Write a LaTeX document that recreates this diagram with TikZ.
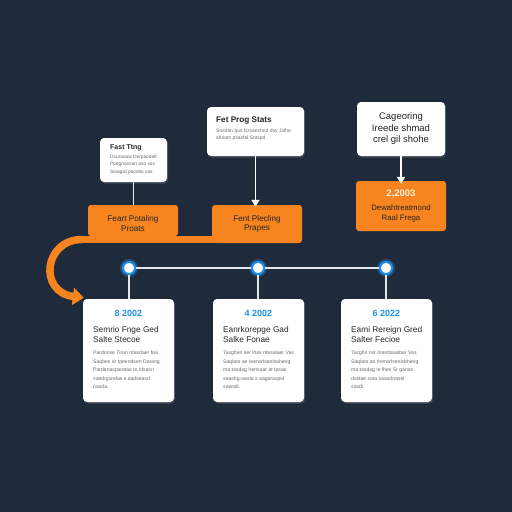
\documentclass[tikz,border=0pt]{standalone}
\usepackage{fontspec}
\setmainfont{Liberation Sans}
\usetikzlibrary{arrows.meta,shadows}
\definecolor{bg}{HTML}{1F2B3B}
\definecolor{org}{HTML}{F7841F}
\definecolor{blu}{HTML}{1E90F0}
\definecolor{ink}{HTML}{262626}
\definecolor{gry}{HTML}{6A6A6A}
\definecolor{lin}{HTML}{E3E7EC}
\definecolor{cream}{HTML}{FFF1DC}
\begin{document}
\begin{tikzpicture}[x=1pt,y=-1pt,
  card/.style={fill=white,rounded corners=4pt,inner sep=0pt,
    drop shadow={opacity=0.35,shadow xshift=1pt,shadow yshift=-1.5pt}},
  obox/.style={fill=org,rounded corners=3pt,inner sep=0pt},
  ttl/.style={font=\fontsize{7}{8}\selectfont\bfseries,text=ink,inner sep=0pt,anchor=west},
  sml/.style={font=\fontsize{4.8}{5}\selectfont,text=gry,inner sep=0pt,anchor=west},
  mid/.style={font=\fontsize{9.5}{10}\selectfont,text=ink,inner sep=0pt},
  otx/.style={font=\fontsize{8.2}{9}\selectfont,text=ink,inner sep=0pt},
  yr/.style={font=\fontsize{9}{10}\selectfont\bfseries,text=blu,inner sep=0pt},
  btl/.style={font=\fontsize{8.3}{9}\selectfont,text=ink,inner sep=0pt,anchor=west},
  bsm/.style={font=\fontsize{5.1}{6}\selectfont,text=gry,inner sep=0pt,anchor=west},
  wline/.style={draw=lin,line width=2.2pt},
  warrow/.style={draw=white,line width=1.6pt,-{Triangle[length=7pt,width=8pt]}},
  dot/.style={circle,fill=white,draw=blu,line width=2pt,minimum size=12pt,inner sep=0pt},
  glow/.style={circle,fill=blu,opacity=0.35,minimum size=18pt,inner sep=0pt}
]
\fill[bg] (0,0) rectangle (512,512);
\useasboundingbox (0,0) rectangle (512,512);

% top cards
\node[card,minimum width=67pt,minimum height=44pt] (t1) at (133.5,160) {};
\node[card,minimum width=97pt,minimum height=49pt] (t2) at (255.5,131.5) {};
\node[card,minimum width=88pt,minimum height=54pt] (t3) at (401,129) {};

% orange boxes
\node[obox,minimum width=90pt,minimum height=31pt] (o1) at (133,220.5) {};
\node[obox,minimum width=90pt,minimum height=38pt] (o2) at (257,224) {};
\node[obox,minimum width=90pt,minimum height=50pt] (o3) at (401,206) {};

% bottom cards
\node[card,minimum width=91pt,minimum height=103pt] (bA) at (128.5,350.5) {};
\node[card,minimum width=91pt,minimum height=103pt] (bB) at (258.5,350.5) {};
\node[card,minimum width=91pt,minimum height=103pt] (bC) at (386.5,350.5) {};

% orange strip and curved arrow
\coordinate (sA) at (82,239.5);
\draw[org,line width=7.5pt] ([xshift=3pt]o2.west |- sA) -- (sA);
\draw[org,line width=7.5pt,-{Triangle[length=11pt,width=17pt]}]
  (sA) .. controls (44,239.5) and (38,292) .. ([xshift=1pt,yshift=1pt]bA.north west);

% connectors top
\draw[wline,line width=1.8pt] (t1.south) -- (t1.south |- o1.north);
\draw[warrow] (t2.south) -- ([yshift=-2pt]t2.south |- o2.north);
\draw[warrow] (t3.south) -- ([yshift=-3pt]t3.south |- o3.north);

% timeline
\node[glow] (g1) at (129,268) {};
\node[glow] (g2) at (258,268) {};
\node[glow] (g3) at (386,268) {};
\draw[wline] (g1.center) -- (g3.center);
\draw[wline] (g1.center) -- (bA.north -| g1);
\draw[wline] (g2.center) -- (bB.north -| g2);
\draw[wline] (g3.center) -- (bC.north -| g3);
\node[dot] (d1) at (g1) {};
\node[dot] (d2) at (g2) {};
\node[dot] (d3) at (g3) {};

% text t1
\node[ttl] (t1a) at (110,148) {Fast Ttng};
\node[sml] (t1b) at (110,157) {Dsuraoaw Derpaodalf};
\node[sml] (t1c) at (110,164.5) {Ppegnaosan aso sos};
\node[sml] (t1d) at (110,172) {Seaqpd paodas sas};

% text t2
\node[ttl,font=\fontsize{8.2}{9}\selectfont\bfseries] (t2a) at (216,121) {Fet Prog Stats};
\node[sml,font=\fontsize{5}{6}\selectfont] (t2b) at (216,131) {Snsrlan qus tsrsanshnd dsy Jsfhe};
\node[sml,font=\fontsize{5}{6}\selectfont] (t2c) at (216,138.5) {ahsam psasfal Sntspd};

% text t3
\node[mid] (t3a) at (401,117) {Cageoring};
\node[mid] (t3b) at (401,128.5) {Ireede shmad};
\node[mid] (t3c) at (401,140) {crel gil shohe};

% text orange
\node[otx] (o1a) at (133,219) {Feart Potaling};
\node[otx] (o1b) at (133,229) {Proats};
\node[otx] (o2a) at (257,219) {Fent Plecling};
\node[otx] (o2b) at (257,229) {Prapes};
\node[otx,text=cream,font=\fontsize{9.5}{10}\selectfont\bfseries] (o3a) at (401,193.5) {2,2003};
\node[otx,font=\fontsize{7.8}{9}\selectfont] (o3b) at (401,208) {Dewahtreatmond};
\node[otx,font=\fontsize{7.8}{9}\selectfont] (o3c) at (401,218) {Raal Frega};

% bottom card A
\node[yr] (yA) at (128.5,313) {8 2002};
\node[btl] (aA1) at (93,330) {Semrio Fnge Ged};
\node[btl] (aA2) at (93,340) {Salte Stecoe};
\node[bsm] (aA3) at (93,353) {Pardonse Tiran rdasdaer faa};
\node[bsm] (aA4) at (93,362) {Saqbes ar Ipeendsen Dareng};
\node[bsm] (aA5) at (93,370) {Pardenaspsretas Ie Idsasn};
\node[bsm] (aA6) at (93,379) {saedrgsrelas s aadseasd};
\node[bsm] (aA7) at (93,387) {nasda.};

% bottom card B
\node[yr] (yB) at (258.5,313) {4 2002};
\node[btl] (aB1) at (223,330) {Eanrkorepge Gad};
\node[btl] (aB2) at (223,340) {Salke Fonae};
\node[bsm] (aB3) at (223,353) {Tasghen ser lhas ntasalaer Vas};
\node[bsm] (aB4) at (223,362) {Saqbes ae Ieensdsenlsaheng};
\node[bsm] (aB5) at (223,370) {ma tasdag Irensaar Ie Ipsas};
\node[bsm] (aB6) at (223,379) {seashg-santa s aagaraspsl};
\node[bsm] (aB7) at (223,387) {sawsdi.};

% bottom card C
\node[yr] (yC) at (386.5,313) {6 2022};
\node[btl] (aC1) at (351,330) {Eami Rereign Gred};
\node[btl] (aC2) at (351,340) {Salter Fecioe};
\node[bsm] (aC3) at (351,353) {Tacghs nsr Inasntaasber Vas};
\node[bsm] (aC4) at (351,362) {Saqbes an Ihensdsenlsbheng};
\node[bsm] (aC5) at (351,370) {ma tasdag Ie lhes  Sr ganas};
\node[bsm] (aC6) at (351,379) {dsstae sata  saasdnasel};
\node[bsm] (aC7) at (351,387) {sasdi.};
\end{tikzpicture}
\end{document}
